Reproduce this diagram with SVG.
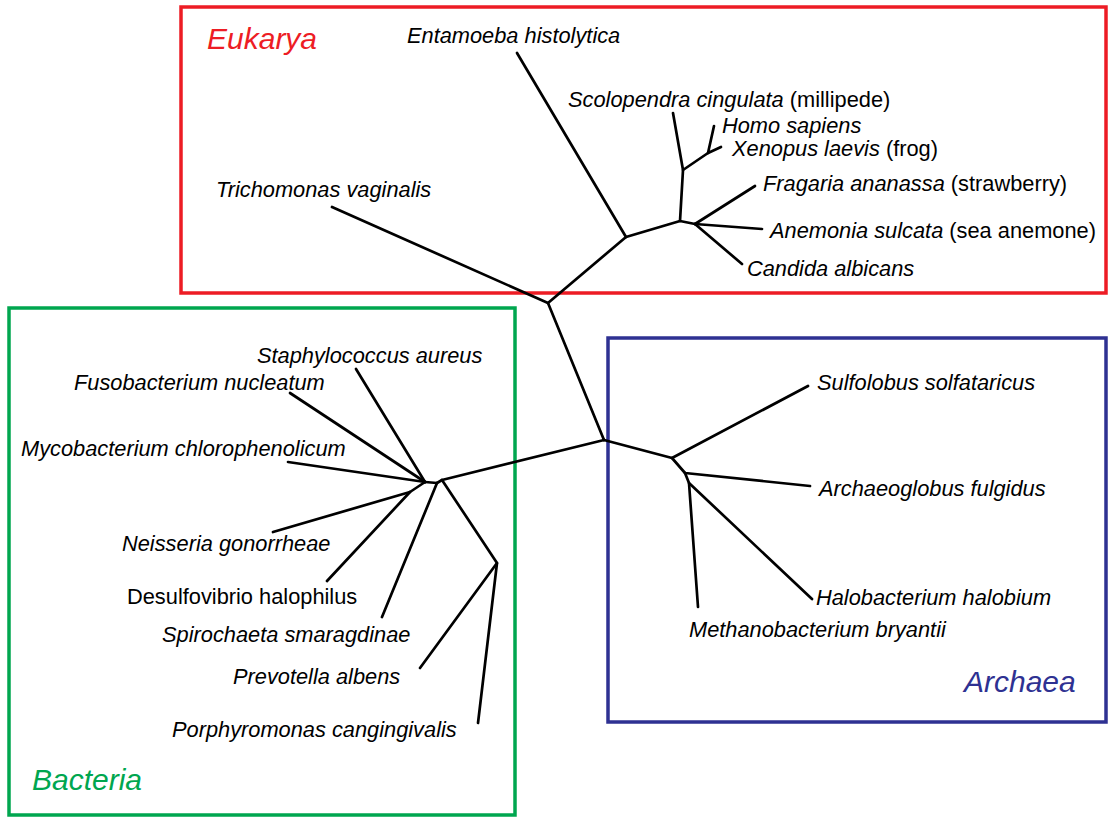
<svg xmlns="http://www.w3.org/2000/svg" width="1108" height="817" viewBox="0 0 1108 817">
<style>
  .t { font-family: "Liberation Sans", Arial, sans-serif; font-size: 21.8px; fill: #000; }
  .i { font-style: italic; }
  .n { font-style: normal; }
  .dom { font-family: "Liberation Sans", Arial, sans-serif; font-size: 30px; font-style: italic; }
  .br { fill: none; stroke: #000; stroke-width: 2.7; stroke-linecap: round; stroke-linejoin: round; }
  .box { fill: none; stroke-width: 3.5; }
</style>
<rect width="1108" height="817" fill="#fff"/>

<g id="domains">
  <g id="eukarya-box">
    <rect class="box" x="181" y="7" width="925" height="286" stroke="#ED1C24"/>
    <text class="dom" x="207" y="49" fill="#ED1C24">Eukarya</text>
  </g>
  <g id="bacteria-box">
    <rect class="box" x="9" y="308" width="506" height="507" stroke="#00A64F"/>
    <text class="dom" x="32" y="790" fill="#00A64F">Bacteria</text>
  </g>
  <g id="archaea-box">
    <rect class="box" x="608" y="338" width="498" height="384" stroke="#2E3192"/>
    <text class="dom" x="964" y="692" fill="#2E3192">Archaea</text>
  </g>
</g>

<g id="connectors">
  <!-- backbone -->
  <path class="br" d="M548,303 L604,440"/>
  <!-- Eukarya -->
  <path class="br" d="M332,207 L548,303 L626,237 L680,221 L695,224"/>
  <path class="br" d="M517,53 L626,237"/>
  <path class="br" d="M680,221 L683,170 L673,113"/>
  <path class="br" d="M683,170 L708,153 L714,126"/>
  <path class="br" d="M708,153 L721,147"/>
  <path class="br" d="M695,224 L755,186"/>
  <path class="br" d="M695,224 L762,229"/>
  <path class="br" d="M695,224 L742,264"/>
  <!-- Bacteria -->
  <path class="br" d="M604,440 L442,480 L437,483 L425,482"/>
  <path class="br" d="M356,369 L425,482"/>
  <path class="br" d="M290,393 L425,482"/>
  <path class="br" d="M288,462 L425,482"/>
  <path class="br" d="M425,482 L410,492 L273,532"/>
  <path class="br" d="M410,492 L327,581"/>
  <path class="br" d="M437,483 L382,617"/>
  <path class="br" d="M442,480 L497,563 L420,668"/>
  <path class="br" d="M497,563 L478,723"/>
  <!-- Archaea -->
  <path class="br" d="M604,440 L672,458 L808,386"/>
  <path class="br" d="M672,458 L685,473 L810,486"/>
  <path class="br" d="M685,473 L689,483 L812,599"/>
  <path class="br" d="M689,483 L698,607"/>
</g>

<g id="taxa">
  <g id="entamoeba"><text class="t i" x="407" y="43">Entamoeba histolytica</text></g>
  <g id="trichomonas"><text class="t i" x="216" y="197">Trichomonas vaginalis</text></g>
  <g id="scolopendra"><text class="t" x="568" y="107"><tspan class="i">Scolopendra cingulata</tspan> (millipede)</text></g>
  <g id="homo"><text class="t i" x="722" y="133">Homo sapiens</text></g>
  <g id="xenopus"><text class="t" x="732" y="156"><tspan class="i">Xenopus laevis</tspan> (frog)</text></g>
  <g id="fragaria"><text class="t" x="763" y="191"><tspan class="i">Fragaria ananassa</tspan> (strawberry)</text></g>
  <g id="anemonia"><text class="t" x="770" y="238"><tspan class="i">Anemonia sulcata</tspan> (sea anemone)</text></g>
  <g id="candida"><text class="t i" x="747" y="276">Candida albicans</text></g>

  <g id="staphylococcus"><text class="t i" x="257" y="363">Staphylococcus aureus</text></g>
  <g id="fusobacterium"><text class="t i" x="74" y="390">Fusobacterium nucleatum</text></g>
  <g id="mycobacterium"><text class="t i" x="21" y="456">Mycobacterium chlorophenolicum</text></g>
  <g id="neisseria"><text class="t i" x="122" y="551">Neisseria gonorrheae</text></g>
  <g id="desulfovibrio"><text class="t n" x="127" y="604">Desulfovibrio halophilus</text></g>
  <g id="spirochaeta"><text class="t i" x="162" y="642">Spirochaeta smaragdinae</text></g>
  <g id="prevotella"><text class="t i" x="233" y="684">Prevotella albens</text></g>
  <g id="porphyromonas"><text class="t i" x="172" y="737">Porphyromonas cangingivalis</text></g>

  <g id="sulfolobus"><text class="t i" x="817" y="390">Sulfolobus solfataricus</text></g>
  <g id="archaeoglobus"><text class="t i" x="819" y="496">Archaeoglobus fulgidus</text></g>
  <g id="halobacterium"><text class="t i" x="816" y="605">Halobacterium halobium</text></g>
  <g id="methanobacterium"><text class="t i" x="689" y="637">Methanobacterium bryantii</text></g>
</g>
</svg>
